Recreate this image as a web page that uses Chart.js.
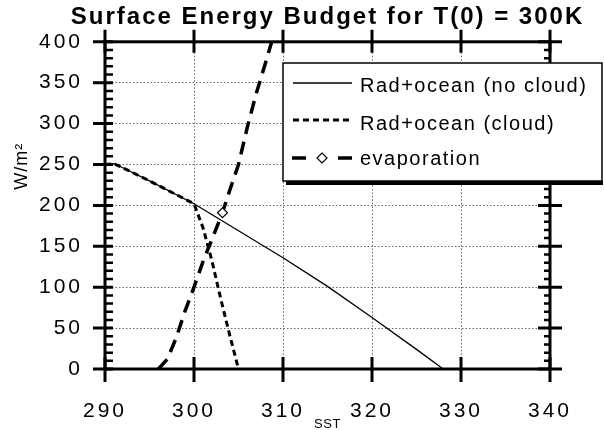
<!DOCTYPE html>
<html>
<head>
<meta charset="utf-8">
<script src="https://cdn.jsdelivr.net/npm/chart.js@4.4.0/dist/chart.umd.min.js"></script>
<style>
  html, body { margin: 0; padding: 0; background: #fff; }
</style>
</head>
<body>
<canvas id="graph1" width="604" height="430"></canvas>
<script>
// valeurs
const noCloudSST = [290, 291, 292, 295, 300, 305, 310, 315, 320, 325, 328];
const noCloudFlux = [250, 251, 246, 230, 202, 169, 136, 101, 63, 24, 0];

const cloudSST = [290, 291, 292, 295, 300, 301, 302, 303, 304, 305];
const cloudFlux = [250, 251, 246, 230, 202, 173, 133, 86, 42, 0];

const evapSST = [296, 297, 298, 299, 300, 301, 302, 303.2, 304, 305, 306, 307, 308, 309];
const evapFlux = [0, 12, 38, 71, 100, 131, 158, 191, 218, 250, 296, 337, 373, 410];
const evapMarkerIndex = 7;

const xTicks = [290, 300, 310, 320, 330, 340];
const yTicks = [0, 50, 100, 150, 200, 250, 300, 350, 400];

const FONT = "'Liberation Sans', Arial, Helvetica, sans-serif";
Chart.defaults.color = '#000';
Chart.defaults.font.family = FONT;

const toPoints = (xs, ys) => xs.map((x, i) => ({x: x, y: ys[i]}));

// le texte original est très espacé : on force letterSpacing selon la police
const canvas = document.getElementById('graph1');
const c2d = canvas.getContext('2d');
function spacingFor(font) {
    if (font.indexOf('bold') >= 0 || font.indexOf('700') >= 0) return '2px';
    if (font.indexOf('21px') >= 0) return '3px';
    return null;
}
const origFill = c2d.fillText;
const origMeasure = c2d.measureText;
c2d.fillText = function (t, x, y) {
    const s = spacingFor(this.font);
    if (s) this.letterSpacing = s;
    return origFill.call(this, t, x, y);
};
c2d.measureText = function (t) {
    const s = spacingFor(this.font);
    if (s) this.letterSpacing = s;
    return origMeasure.call(this, t);
};

// cadre, graduations majeures et mineures
const frame = {
    id: 'frame',
    afterDatasetsDraw(chart) {
        const ctx = chart.ctx;
        const a = chart.chartArea;
        const xs = chart.scales.x, ys = chart.scales.y;
        ctx.save();
        ctx.strokeStyle = '#000';
        ctx.lineWidth = 3;
        ctx.strokeRect(a.left, a.top, a.right - a.left, a.bottom - a.top);

        ctx.beginPath();
        xTicks.forEach(v => {
            const px = xs.getPixelForValue(v);
            ctx.moveTo(px, a.bottom - 12); ctx.lineTo(px, a.bottom + 13);
            ctx.moveTo(px, a.top - 12); ctx.lineTo(px, a.top + 11);
        });
        yTicks.forEach(v => {
            const py = ys.getPixelForValue(v);
            ctx.moveTo(a.left - 12, py); ctx.lineTo(a.left + 8, py);
            ctx.moveTo(a.right - 12, py); ctx.lineTo(a.right + 12, py);
        });
        ctx.stroke();

        ctx.lineWidth = 2.5;
        ctx.beginPath();
        for (let v = 10; v < 400; v += 10) {
            if (v % 50 === 0) continue;
            const py = ys.getPixelForValue(v);
            ctx.moveTo(a.left, py); ctx.lineTo(a.left + 8, py);
            ctx.moveTo(a.right - 6, py); ctx.lineTo(a.right, py);
        }
        ctx.stroke();
        ctx.restore();
    },
    afterDraw(chart) {
        const ctx = chart.ctx;
        const a = chart.chartArea;
        ctx.save();
        ctx.fillStyle = '#000';

        // titres des axes
        ctx.letterSpacing = '0.5px';
        ctx.font = '13px ' + FONT;
        ctx.textAlign = 'center';
        ctx.textBaseline = 'middle';
        ctx.fillText('SST', (a.left + a.right) / 2, 424);

        ctx.save();
        ctx.translate(22, chart.scales.y.getPixelForValue(248));
        ctx.rotate(-Math.PI / 2);
        ctx.letterSpacing = '1px';
        ctx.font = '18px ' + FONT;
        ctx.fillText('W/m\u00B2', 0, 0);
        ctx.restore();

        // légende
        const bx = 283, by = 63, bw = 319, bh = 118;
        ctx.fillStyle = '#000';
        ctx.fillRect(bx + 3, by + bh, bw - 2, 4);
        ctx.fillStyle = '#fff';
        ctx.fillRect(bx, by, bw, bh);
        ctx.strokeStyle = '#000';
        ctx.lineWidth = 1.5;
        ctx.strokeRect(bx, by, bw, bh);

        const ds = chart.data.datasets;
        const rows = [83, 120, 158];
        const base = [92, 130, 165];
        ds.forEach((d, i) => {
            const y = rows[i];
            ctx.strokeStyle = '#000';
            ctx.lineWidth = d.borderWidth;
            ctx.setLineDash(d.borderDash || []);
            ctx.beginPath();
            if (i < 2) {
                ctx.moveTo(293, y); ctx.lineTo(352, y);
            } else {
                ctx.setLineDash([]);
                ctx.moveTo(292, y); ctx.lineTo(306, y);
                ctx.moveTo(338, y); ctx.lineTo(352, y);
            }
            ctx.stroke();
            ctx.setLineDash([]);
            if (i === 2) {
                ctx.lineWidth = 1.2;
                ctx.fillStyle = '#fff';
                ctx.beginPath();
                ctx.moveTo(322, y - 5); ctx.lineTo(327, y); ctx.lineTo(322, y + 5); ctx.lineTo(317, y);
                ctx.closePath();
                ctx.fill(); ctx.stroke();
            }
            ctx.fillStyle = '#000';
            ctx.letterSpacing = '1.5px';
            ctx.font = '20px ' + FONT;
            ctx.textAlign = 'left';
            ctx.textBaseline = 'alphabetic';
            ctx.fillText(d.label, 360, base[i]);
        });
        ctx.restore();
    }
};

const energyChart = new Chart(canvas, {
    type: 'line',
    data: {
        datasets: [
            {
                label: 'Rad+ocean (no cloud)',
                data: toPoints(noCloudSST, noCloudFlux),
                borderColor: '#000',
                borderWidth: 1.3,
                pointRadius: 0,
                tension: 0
            },
            {
                label: 'Rad+ocean (cloud)',
                data: toPoints(cloudSST, cloudFlux),
                borderColor: '#000',
                borderWidth: 3,
                borderDash: [6, 4],
                pointRadius: 0,
                tension: 0
            },
            {
                label: 'evaporation',
                data: toPoints(evapSST, evapFlux),
                borderColor: '#000',
                borderWidth: 3.5,
                borderDash: [13, 8],
                pointStyle: 'rectRot',
                pointRadius: evapSST.map((v, i) => i === evapMarkerIndex ? 5 : 0),
                pointBorderWidth: 1.2,
                pointBackgroundColor: '#fff',
                pointBorderColor: '#000',
                tension: 0
            }
        ]
    },
    options: {
        responsive: false,
        animation: false,
        layout: { padding: { right: 54 } },
        scales: {
            x: {
                type: 'linear',
                min: 290,
                max: 340,
                afterFit: s => { s.height = 61; },
                afterBuildTicks: s => { s.ticks = xTicks.map(v => ({value: v})); },
                grid: { color: '#666', lineWidth: 1, drawTicks: false },
                border: { display: false, dash: [1.5, 2] },
                ticks: { font: { size: 21 }, padding: 30, maxRotation: 0 }
            },
            y: {
                min: 0,
                max: 400,
                afterFit: s => { s.width = 105; },
                afterBuildTicks: s => { s.ticks = yTicks.map(v => ({value: v})); },
                grid: { color: '#666', lineWidth: 1, drawTicks: false },
                border: { display: false, dash: [1.5, 2] },
                ticks: { font: { size: 21 }, padding: 22 }
            }
        },
        plugins: {
            legend: { display: false },
            tooltip: { enabled: false },
            title: {
                display: true,
                fullSize: false,
                text: 'Surface Energy Budget for T(0) = 300K',
                font: { size: 24, weight: 'bold' },
                padding: { top: 3, bottom: 10 }
            }
        }
    },
    plugins: [frame]
});
</script>
</body>
</html>
